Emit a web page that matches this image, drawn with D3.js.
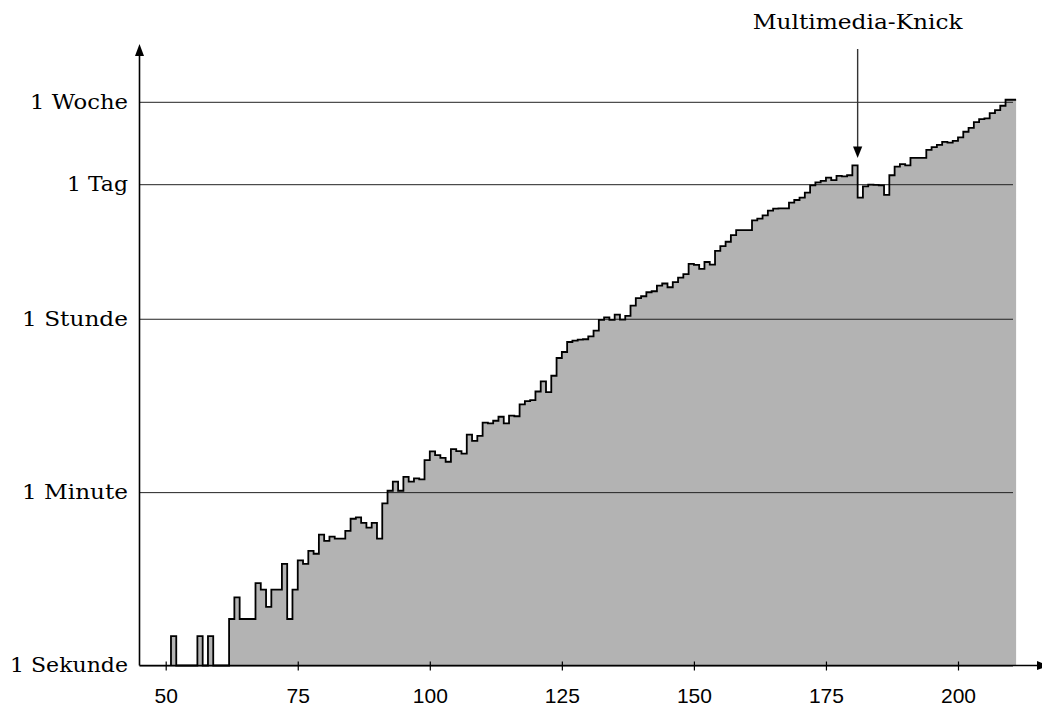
<!DOCTYPE html>
<html>
<head>
<meta charset="utf-8">
<script src="https://cdn.jsdelivr.net/npm/d3@7"></script>
<style>
  html, body { margin: 0; padding: 0; background: #fff; }
  svg { display: block; }
</style>
</head>
<body>
<script>
// ---- data -------------------------------------------------------------
const firstCategory = 51;
const lastCategory = 210;
const durations = [
  2,1,1,1,1,2,1,2,1,1,1,
  3,5,3,3,3,7,6,4,6,6,
  11,3,6,12,11,15,14,22,19,21,
  20,20,24,32,33,29,26,29,20,46,
  62,77,62,86,77,83,81,128,157,144,
  135,123,166,158,149,233,201,227,310,305,
  324,356,305,365,360,476,515,526,646,819,
  637,937,1425,1642,2080,2146,2198,2220,2377,2719,
  3510,3725,3510,3972,3530,3850,4918,5870,6128,6732,
  6898,7890,8280,7580,8540,9530,10320,13190,12880,11700,
  13760,12920,17900,20000,22200,26000,29200,29200,29200,36800,
  38300,41400,46200,48500,48900,48900,55900,59500,62900,70800,
  84200,90400,93300,101000,95000,105000,104000,106700,135000,63000,
  82000,85700,85000,84200,67000,106700,131000,138500,135000,160700,
  160700,160700,194000,207000,219000,235000,231000,240000,261000,298000,
  327000,374000,402000,408000,463000,497000,551000,635000,635000
];
const xTickValues = [50, 75, 100, 125, 150, 175, 200];
const yTickValues = [1, 60, 3600, 86400, 604800];
const yTickLabels = ["1 Sekunde", "1 Minute", "1 Stunde", "1 Tag", "1 Woche"];
const annotationText = "Multimedia-Knick";
const annotationCategory = 181;

// ---- layout -----------------------------------------------------------
const W = 1042, H = 709;
const axisX = 139.5;
const serif = "'DejaVu Serif', 'Liberation Serif', serif";
const sans = "'Liberation Sans', Arial, sans-serif";
const labelWidths = {"1 Sekunde": 118, "1 Minute": 106, "1 Stunde": 106, "1 Tag": 61, "1 Woche": 98};

const x = d3.scaleLinear().domain([50, 200]).range([165.7, 958.0]);
const y = d3.scaleLog().domain([1, 604800]).range([665.5, 101.8]);

const svg = d3.select("body").append("svg").attr("width", W).attr("height", H);

const cats = d3.range(firstCategory, lastCategory + 1);
const pts = cats.map((c, i) => ({c, v: durations[i]}));
const fillPts = pts.concat([{c: lastCategory + 1, v: durations[durations.length - 1]}]);
const linePts = [{c: firstCategory, v: 1}].concat(fillPts);

// fill
svg.append("path")
  .datum(fillPts)
  .attr("fill", "#b3b3b3")
  .attr("stroke", "none")
  .attr("d", d3.area().x(d => x(d.c)).y0(y(1)).y1(d => y(d.v)).curve(d3.curveStepAfter));

// y axis with gridlines
const gridRight = 1013;
const yAxis = d3.axisLeft(y)
  .tickValues(yTickValues)
  .tickFormat((d, i) => yTickLabels[i])
  .tickSizeInner(-(gridRight - axisX))
  .tickSizeOuter(0)
  .tickPadding(11.5);
const yg = svg.append("g").attr("transform", `translate(${axisX},0)`).call(yAxis);
yg.select(".domain").remove();
yg.selectAll(".tick line").attr("stroke", "#222").attr("stroke-width", 1);
yg.selectAll(".tick text")
  .attr("fill", "#000")
  .style("font-family", serif)
  .style("font-size", "20px")
  .attr("textLength", d => labelWidths[yTickLabels[yTickValues.indexOf(d)]])
  .attr("lengthAdjust", "spacingAndGlyphs");

// outline
svg.append("path")
  .datum(linePts)
  .attr("fill", "none")
  .attr("stroke", "#000")
  .attr("stroke-width", 1.8)
  .attr("stroke-linejoin", "miter")
  .attr("d", d3.line().x(d => x(d.c)).y(d => y(d.v)).curve(d3.curveStepAfter));

// x axis
const baseY = y(1);
const xAxis = d3.axisBottom(x).tickValues(xTickValues).tickSizeInner(5).tickSizeOuter(0).tickPadding(18);
const xg = svg.append("g").attr("transform", `translate(0,${baseY})`).call(xAxis);
xg.select(".domain").remove();
xg.selectAll(".tick line").attr("y1", -4).attr("y2", 5).attr("stroke", "#000").attr("stroke-width", 1.2);
xg.selectAll(".tick text").attr("fill", "#000").style("font-family", sans).style("font-size", "21px");

// axis lines with arrows
svg.append("line").attr("x1", axisX).attr("x2", 1040).attr("y1", baseY).attr("y2", baseY)
  .attr("stroke", "#000").attr("stroke-width", 1.6);
svg.append("path").attr("d", `M1049,${baseY} L1037,${baseY - 4.5} L1037,${baseY + 4.5} Z`).attr("fill", "#000");
svg.append("line").attr("x1", axisX).attr("x2", axisX).attr("y1", baseY).attr("y2", 54)
  .attr("stroke", "#000").attr("stroke-width", 1.6);
svg.append("path").attr("d", `M${axisX},44 L${axisX - 4.5},56 L${axisX + 4.5},56 Z`).attr("fill", "#000");

// annotation
const ax = x(annotationCategory);
svg.append("text")
  .attr("x", ax).attr("y", 29)
  .attr("text-anchor", "middle")
  .style("font-family", serif).style("font-size", "20px")
  .attr("textLength", 210).attr("lengthAdjust", "spacingAndGlyphs")
  .text(annotationText);
svg.append("line").attr("x1", ax).attr("x2", ax).attr("y1", 49).attr("y2", 148)
  .attr("stroke", "#333").attr("stroke-width", 1.4);
svg.append("path").attr("d", `M${ax},158 L${ax - 4.6},146.5 L${ax + 4.6},146.5 Z`).attr("fill", "#000");
</script>
</body>
</html>
